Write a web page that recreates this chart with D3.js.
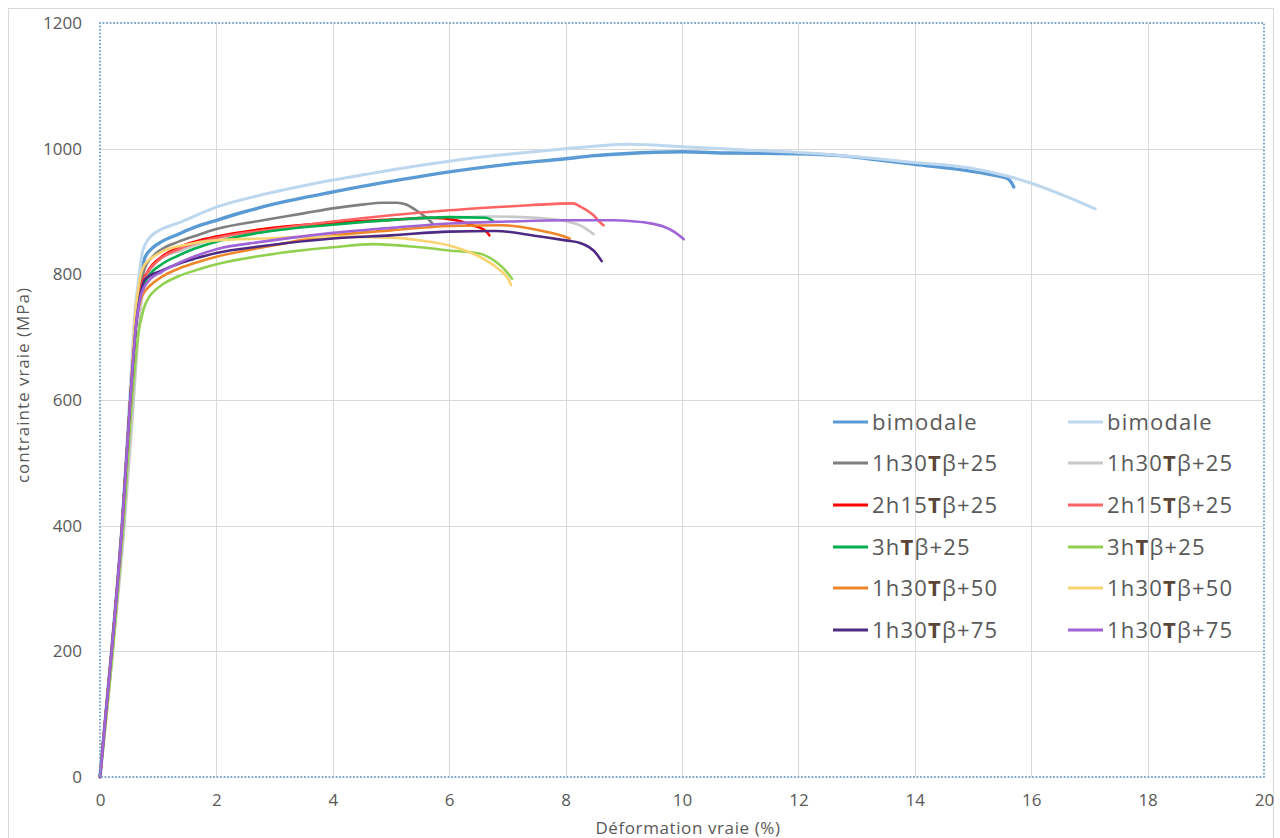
<!DOCTYPE html>
<html><head><meta charset="utf-8">
<script src="https://cdn.jsdelivr.net/npm/d3@7"></script>
<style>
html,body{margin:0;padding:0;background:#fff;}
svg{display:block;}
text{font-family:"Open Sans","Noto Sans",sans-serif;fill:#595959;}
</style></head>
<body>
<svg id="chart" width="1280" height="838"></svg>
<script>
// ---- data (strain %, true stress MPa) ----
const seriesNames = ["bimodale","bimodale","1h30Tβ+25","1h30Tβ+25","2h15Tβ+25","2h15Tβ+25","3hTβ+25","3hTβ+25","1h30Tβ+50","1h30Tβ+50","1h30Tβ+75","1h30Tβ+75"];
const seriesColors = ["#5b9bd5","#bdd7ee","#7f7f7f","#c9c9c9","#ff0000","#ff6464","#00b050","#92d050","#f0862a","#fad473","#4e2a84","#a064d6"];

const bimodaleAX = [0,0.2,0.38,0.52,0.6,0.66,0.7,0.77,0.88,1.06,1.35,1.63,2.0,2.5,3.0,3.5,4.0,4.5,5.0,6.0,7.0,8.0,8.5,9.0,10.0,10.8,12.0,12.7,13.2,14.0,14.9,15.4,15.6,15.66,15.7];
const bimodaleAY = [0,200,400,600,720,780,801,826,840,852,864,875,886,900,912,922,931,940,948,963,975,984,989,992,995,993,992,989,984,975,965,957,952,946,939];

const bimodaleBX = [0,0.2,0.38,0.52,0.6,0.66,0.72,0.78,0.89,1.0,1.35,2.0,2.8,3.5,4.0,4.5,5.0,6.0,7.0,8.0,8.5,9.1,10.0,11.1,12.0,13.0,14.0,14.9,15.6,16.0,16.6,17.1];
const bimodaleBY = [0,200,400,620,740,790,832,848,862,869,882,907,927,941,950,958,966,980,991,1000,1004,1007,1003,998,994,987,978,970,956,945,924,904];

const g1h30AX = [0,0.2,0.38,0.52,0.62,0.7,0.77,0.9,1.06,1.35,1.63,2.0,2.8,3.5,4.0,4.5,4.86,5.1,5.26,5.43,5.58,5.66,5.72];
const g1h30AY = [0,200,400,600,730,785,810,828,840,852,861,872,886,897,905,911,914,914,911,902,892,886,880];

const g1h30BX = [0,0.22,0.42,0.58,0.68,0.78,0.9,1.06,1.4,2.0,3.0,4.0,5.0,6.0,6.76,7.5,8.02,8.25,8.48];
const g1h30BY = [0,200,400,600,730,790,812,826,838,858,871,880,886,890,892,890,884,878,864];

const r2h15AX = [0,0.2,0.38,0.52,0.62,0.7,0.83,1.06,1.35,1.63,2.0,2.8,4.0,5.0,5.66,6.12,6.4,6.58,6.65,6.69];
const r2h15AY = [0,200,400,600,730,778,806,828,843,852,860,872,882,887,890,886,878,872,867,862];

const r2h15BX = [0,0.2,0.38,0.52,0.62,0.7,0.8,1.0,1.35,2.0,3.0,4.0,5.0,6.0,7.0,7.38,8.13,8.25,8.48,8.58,8.65];
const r2h15BY = [0,200,400,600,720,775,800,822,840,858,872,884,894,902,908,910,913,908,894,884,878];

const g3hAX = [0,0.2,0.38,0.52,0.62,0.7,0.83,1.06,1.35,1.63,2.0,2.8,4.0,5.09,6.0,6.63,6.7,6.75];
const g3hAY = [0,200,400,600,720,770,796,816,830,841,852,867,879,887,891,890,888,885];

const g3hBX = [0,0.22,0.4,0.55,0.65,0.75,0.85,0.95,1.06,1.35,1.63,2.0,2.8,4.0,4.69,5.5,6.0,6.52,6.8,6.95,7.08];
const g3hBY = [0,200,400,600,700,745,765,775,783,797,806,816,830,843,848,843,838,833,820,808,793];

const o1h30AX = [0,0.2,0.38,0.52,0.62,0.72,0.86,1.06,1.35,1.63,2.0,2.8,4.0,5.0,6.0,6.92,7.5,7.95,8.07];
const o1h30AY = [0,200,400,600,720,765,782,796,809,818,828,843,862,870,877,878,871,861,857];

const o1h30BX = [0,0.2,0.38,0.52,0.6,0.68,0.745,0.95,1.06,1.52,2.0,2.8,4.0,5.09,5.5,6.0,6.52,6.8,6.95,7.03,7.06];
const o1h30BY = [0,200,400,600,730,790,812,830,836,848,854,857,860,858,854,846,828,812,800,790,783];

const p1h30AX = [0,0.2,0.38,0.52,0.62,0.7,0.77,1.06,1.35,1.63,2.0,2.8,4.0,5.0,6.0,6.8,7.5,8.0,8.25,8.41,8.5,8.62];
const p1h30AY = [0,200,400,600,720,770,792,806,817,825,834,845,857,862,868,869,861,854,850,843,836,821];

const p1h30BX = [0,0.2,0.38,0.52,0.62,0.7,0.83,1.06,1.35,1.63,2.0,2.8,4.0,5.0,6.0,7.0,8.0,8.82,9.1,9.4,9.68,9.86,10.03];
const p1h30BY = [0,200,400,600,720,765,789,804,818,829,840,852,866,874,881,884,886,886,885,882,876,868,856];

const seriesX = [bimodaleAX,bimodaleBX,g1h30AX,g1h30BX,r2h15AX,r2h15BX,g3hAX,g3hBX,o1h30AX,o1h30BX,p1h30AX,p1h30BX];
const seriesY = [bimodaleAY,bimodaleBY,g1h30AY,g1h30BY,r2h15AY,r2h15BY,g3hAY,g3hBY,o1h30AY,o1h30BY,p1h30AY,p1h30BY];

const xTicks = [0,2,4,6,8,10,12,14,16,18,20];
const yTicks = [0,200,400,600,800,1000,1200];
const xTitle = "Déformation vraie (%)";
const yTitle = "contrainte vraie (MPa)";

// ---- drawing ----
const svg = d3.select("#chart");
const L = 100, R = 1264, T = 23, B = 777;
const x = d3.scaleLinear().domain([0,20]).range([L,R]);
const y = d3.scaleLinear().domain([0,1200]).range([B,T]);

// outer chart border
svg.append("rect").attr("x",8.5).attr("y",8.5).attr("width",1265).attr("height",840)
  .attr("fill","none").attr("stroke","#d9d9d9").attr("stroke-width",1);

// gridlines
const grid = svg.append("g");
grid.selectAll("line.v").data(xTicks.slice(1,-1)).join("line")
  .attr("x1",d=>Math.round(x(d))+0.5).attr("x2",d=>Math.round(x(d))+0.5)
  .attr("y1",T).attr("y2",B).attr("stroke","#d9d9d9").attr("stroke-width",1);
grid.selectAll("line.h").data(yTicks.slice(1,-1)).join("line")
  .attr("y1",d=>Math.round(y(d))+0.5).attr("y2",d=>Math.round(y(d))+0.5)
  .attr("x1",L).attr("x2",R).attr("stroke","#d9d9d9").attr("stroke-width",1);

// axes (labels only)
const xAxis = d3.axisBottom(x).tickValues(xTicks).tickFormat(d3.format("d")).tickSize(0).tickPadding(17);
const gx = svg.append("g").attr("transform",`translate(0,${B})`).call(xAxis);
gx.select(".domain").remove();
gx.selectAll("text").style("font-size","17px").style("font-family","'Open Sans',sans-serif").attr("fill","#595959");

const yAxis = d3.axisLeft(y).tickValues(yTicks).tickFormat(d3.format("d")).tickSize(0).tickPadding(18);
const gy = svg.append("g").attr("transform",`translate(${L},0)`).call(yAxis);
gy.select(".domain").remove();
gy.selectAll("text").style("font-size","17px").style("font-family","'Open Sans',sans-serif").attr("fill","#595959");

// series
const line = d3.line().curve(d3.curveMonotoneX).x(d=>x(d[0])).y(d=>y(d[1]));
const gs = svg.append("g");
seriesX.forEach((xs,i)=>{
  const pts = xs.map((v,j)=>[v, seriesY[i][j]]);
  gs.append("path").datum(pts).attr("d",line)
    .attr("fill","none").attr("stroke",seriesColors[i])
    .attr("stroke-width", i===0 ? 3.4 : (i===1 ? 3 : 2.6))
    .attr("stroke-linejoin","round").attr("stroke-linecap","round");
});

// dotted plot-area border
svg.append("rect").attr("x",L).attr("y",T).attr("width",R-L).attr("height",B-T)
  .attr("fill","none").attr("stroke","#6f9cc8").attr("stroke-width",2)
  .attr("stroke-dasharray","0.1 3.4").attr("stroke-linecap","round");

// axis titles
svg.append("text").attr("x",(L+R)/2 + 6).attr("y",834).attr("text-anchor","middle")
  .style("font-size","17px").style("letter-spacing","0.6px").text(xTitle);
svg.append("text").attr("transform",`translate(29,${(T+B)/2 - 15}) rotate(-90)`).attr("text-anchor","middle")
  .style("font-size","17px").style("letter-spacing","1px").text(yTitle);

// legend
const legRows = [422,463,505,547,588,630];
const legCols = [833,1068];
const lg = svg.append("g");
seriesNames.forEach((name,i)=>{
  const col = i%2, row = Math.floor(i/2);
  const lx = legCols[col], ly = legRows[row];
  lg.append("line").attr("x1",lx).attr("x2",lx+35).attr("y1",ly).attr("y2",ly)
    .attr("stroke",seriesColors[i]).attr("stroke-width",3);
  const t = lg.append("text").attr("x",lx+39).attr("y",ly+8).style("font-size","22px").style("letter-spacing","1.2px");
  const k = name.indexOf("T");
  if(k<0){ t.text(name); }
  else {
    t.append("tspan").text(name.slice(0,k));
    t.append("tspan").attr("font-weight","bold").attr("fill","#5a4636").text("T");
    t.append("tspan").text(name.slice(k+1));
  }
});
</script>
</body></html>
